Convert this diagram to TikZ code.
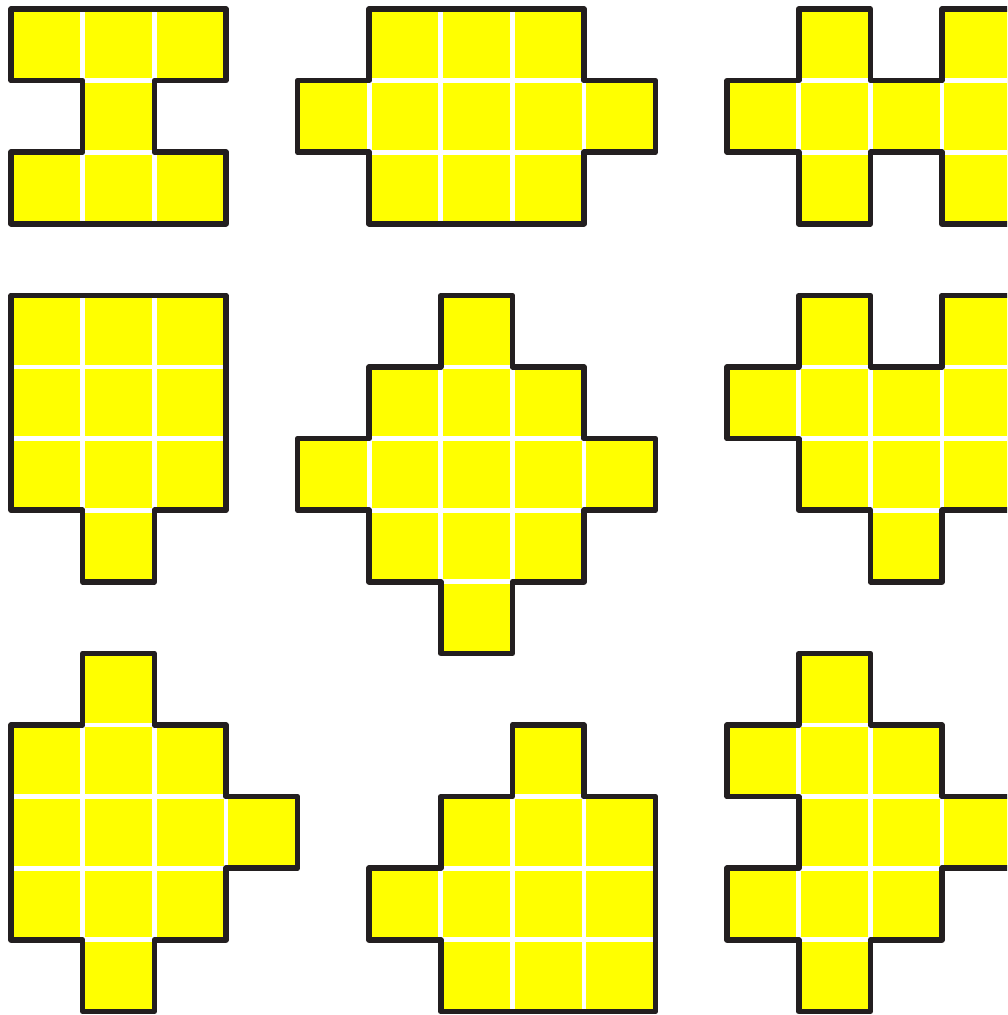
\documentclass[tikz,border=0pt]{standalone}
\begin{document}
\begin{tikzpicture}[x=1cm,y=-1cm,
  cellst/.style={fill={rgb,255:red,255;green,255;blue,0}, draw=white, line width=1.9pt},
  outl/.style={draw={rgb,255:red,35;green,31;blue,32}, line width=2.2pt, line join=round}]
\useasboundingbox (-0.155,-0.125) rectangle (13.91,14.05);
\clip (-0.155,-0.125) rectangle (13.91,14.05);
\newcommand{\cells}[1]{\foreach \c/\r in {#1} {\path[cellst] (\c,\r) rectangle ++(1,1);}}
% shape 1
\cells{0/0,1/0,2/0,1/1,0/2,1/2,2/2}
\draw[outl] (0,0)--(3,0)--(3,1)--(2,1)--(2,2)--(3,2)--(3,3)--(0,3)--(0,2)--(1,2)--(1,1)--(0,1)--cycle;
% shape 2
\cells{5/0,6/0,7/0,4/1,5/1,6/1,7/1,8/1,5/2,6/2,7/2}
\draw[outl] (5,0)--(8,0)--(8,1)--(9,1)--(9,2)--(8,2)--(8,3)--(5,3)--(5,2)--(4,2)--(4,1)--(5,1)--cycle;
% shape 3 (cut off at the right)
\cells{11/0,13/0,14/0,10/1,11/1,12/1,13/1,14/1,11/2,13/2,14/2}
\draw[outl] (11,0)--(12,0)--(12,1)--(13,1)--(13,0)--(14.4,0)--(14.4,3)--(13,3)--(13,2)--(12,2)--(12,3)--(11,3)--(11,2)--(10,2)--(10,1)--(11,1)--cycle;
% shape 4
\cells{0/4,1/4,2/4,0/5,1/5,2/5,0/6,1/6,2/6,1/7}
\draw[outl] (0,4)--(3,4)--(3,7)--(2,7)--(2,8)--(1,8)--(1,7)--(0,7)--cycle;
% shape 5
\cells{6/4,5/5,6/5,7/5,4/6,5/6,6/6,7/6,8/6,5/7,6/7,7/7,6/8}
\draw[outl] (6,4)--(7,4)--(7,5)--(8,5)--(8,6)--(9,6)--(9,7)--(8,7)--(8,8)--(7,8)--(7,9)--(6,9)--(6,8)--(5,8)--(5,7)--(4,7)--(4,6)--(5,6)--(5,5)--(6,5)--cycle;
% shape 6 (cut off at the right)
\cells{11/4,13/4,14/4,10/5,11/5,12/5,13/5,14/5,11/6,12/6,13/6,14/6,12/7}
\draw[outl] (11,4)--(12,4)--(12,5)--(13,5)--(13,4)--(14.4,4)--(14.4,7)--(13,7)--(13,8)--(12,8)--(12,7)--(11,7)--(11,6)--(10,6)--(10,5)--(11,5)--cycle;
% shape 7
\cells{1/9,0/10,1/10,2/10,0/11,1/11,2/11,3/11,0/12,1/12,2/12,1/13}
\draw[outl] (1,9)--(2,9)--(2,10)--(3,10)--(3,11)--(4,11)--(4,12)--(3,12)--(3,13)--(2,13)--(2,14)--(1,14)--(1,13)--(0,13)--(0,10)--(1,10)--cycle;
% shape 8
\cells{7/10,6/11,7/11,8/11,5/12,6/12,7/12,8/12,6/13,7/13,8/13}
\draw[outl] (7,10)--(8,10)--(8,11)--(9,11)--(9,14)--(6,14)--(6,13)--(5,13)--(5,12)--(6,12)--(6,11)--(7,11)--cycle;
% shape 9 (cut off at the right)
\cells{11/9,10/10,11/10,12/10,11/11,12/11,13/11,14/11,10/12,11/12,12/12,11/13}
\draw[outl] (11,9)--(12,9)--(12,10)--(13,10)--(13,11)--(14.4,11)--(14.4,12)--(13,12)--(13,13)--(12,13)--(12,14)--(11,14)--(11,13)--(10,13)--(10,12)--(11,12)--(11,11)--(10,11)--(10,10)--(11,10)--cycle;
\end{tikzpicture}
\end{document}
